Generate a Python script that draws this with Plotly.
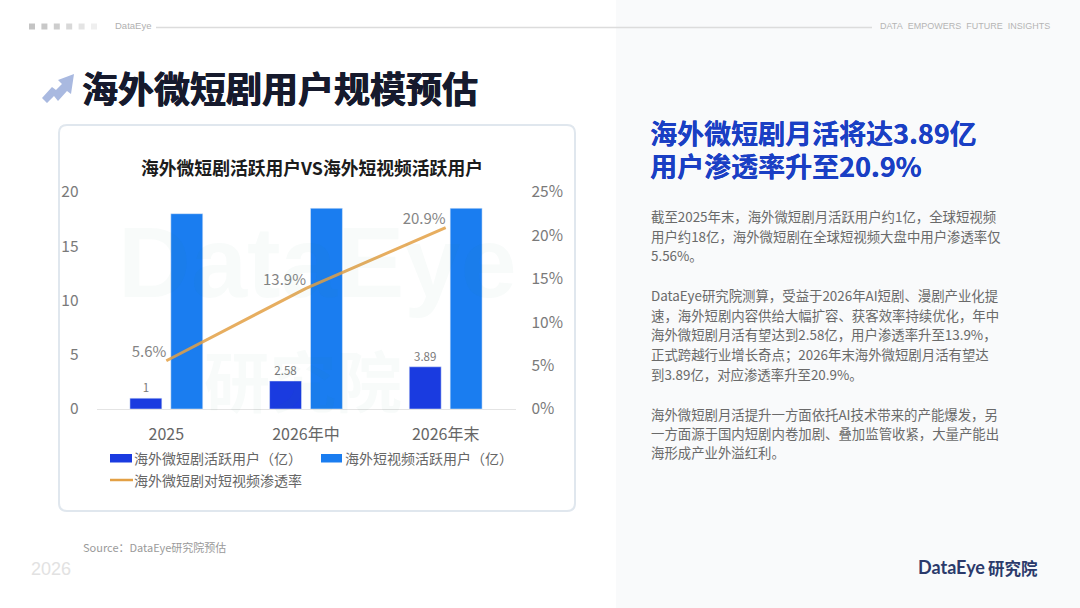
import plotly.graph_objects as go

W, H = 1080, 608
CJK = "Noto Sans CJK SC"

categories = ["2025", "2026年中", "2026年末"]
drama_users = [1, 2.58, 3.89]
video_users = [18, 18.5, 18.5]
penetration = [5.56, 13.9, 20.9]

left_ticks = [0, 5, 10, 15, 20]
right_ticks = [0, 5, 10, 15, 20, 25]

drama_name = "海外微短剧活跃用户（亿）"
video_name = "海外短视频活跃用户（亿）"
rate_name = "海外微短剧对短视频渗透率"
drama_color = "#1a3be0"
video_color = "#1a7df0"
rate_color = "#e3a045"

page_title = "海外微短剧用户规模预估"
chart_title = "海外微短剧活跃用户VS海外短视频活跃用户"
side_heading = ["海外微短剧月活将达3.89亿", "用户渗透率升至20.9%"]
body_lines = [
    "截至2025年末，海外微短剧月活跃用户约1亿，全球短视频",
    "用户约18亿，海外微短剧在全球短视频大盘中用户渗透率仅",
    "5.56%。",
    "DataEye研究院测算，受益于2026年AI短剧、漫剧产业化提",
    "速，海外短剧内容供给大幅扩容、获客效率持续优化，年中",
    "海外微短剧月活有望达到2.58亿，用户渗透率升至13.9%，",
    "正式跨越行业增长奇点；2026年末海外微短剧月活有望达",
    "到3.89亿，对应渗透率升至20.9%。",
    "海外微短剧月活提升一方面依托AI技术带来的产能爆发，另",
    "一方面源于国内短剧内卷加剧、叠加监管收紧，大量产能出",
    "海形成产业外溢红利。",
]
body_y = [215.5, 235.5, 254.5, 294.5, 314.5, 333.5, 353.5, 373.5, 413.5, 432.5, 452.5]


def fx(px):
    return px / W


def fy(px):
    return 1 - px / H


def label(text, x, y, size, color, bold=False, anchor="left", family=CJK, shadow=None):
    if bold:
        text = "<b>" + text + "</b>"
    font = dict(size=size, color=color, family=family)
    if shadow:
        font["shadow"] = shadow
    # annotations sit about 2px right of the anchor because of their padding
    return dict(text=text, x=fx(x), y=fy(y), xref="paper", yref="paper", showarrow=False, xshift=-2 if anchor == "left" else 0,
                xanchor=anchor, yanchor="middle", font=font)


fig = go.Figure()
fig.add_trace(go.Bar(x=categories, y=drama_users, name=drama_name, marker_color=drama_color,
                     text=[str(v) for v in drama_users], textposition="outside", cliponaxis=False,
                     textfont=dict(size=11.5, color="#7a7a7a")))
fig.add_trace(go.Bar(x=categories, y=video_users, name=video_name, marker_color=video_color))
fig.add_trace(go.Scatter(x=categories, y=penetration, yaxis="y2", name=rate_name, mode="lines+text",
                         line=dict(color=rate_color, width=3), opacity=0.85,
                         text=["%.1f%%" % v for v in penetration], textposition="top left",
                         textfont=dict(size=15, color="#6f6f6f"), cliponaxis=False))

arrow_x = [74, 58, 62, 56, 52, 42, 47, 54, 58, 67, 71]
arrow_y = [74, 80, 84, 90, 87, 98, 103, 96, 101, 91, 94]
arrow_path = "M " + " L ".join("%f %f" % (fx(a), fy(b)) for a, b in zip(arrow_x, arrow_y)) + " Z"

shapes = [
    dict(type="rect", xref="paper", yref="paper", x0=fx(616), x1=1, y0=0, y1=1, fillcolor="#f9fafb", line_width=0, layer="below"),
    # card
    dict(type="path", xref="paper", yref="paper", layer="below", fillcolor="#ffffff", line=dict(color="#e0e7ee", width=2),
         path="M %f %f L %f %f Q %f %f %f %f L %f %f Q %f %f %f %f L %f %f Q %f %f %f %f L %f %f Q %f %f %f %f Z" % (
             fx(67), fy(125), fx(567), fy(125), fx(575), fy(125), fx(575), fy(133),
             fx(575), fy(503), fx(575), fy(511), fx(567), fy(511),
             fx(67), fy(511), fx(59), fy(511), fx(59), fy(503),
             fx(59), fy(133), fx(59), fy(125), fx(67), fy(125))),
    # header rule
    dict(type="line", xref="paper", yref="paper", x0=fx(156), x1=fx(872), y0=fy(27.5), y1=fy(27.5), line=dict(color="#dcdcdc", width=1.5)),
    # arrow icon
    dict(type="path", xref="paper", yref="paper", fillcolor="#a9b9e0", line_width=0, path=arrow_path),
    # legend swatches, plotly only draws square ones
    dict(type="rect", xref="paper", yref="paper", x0=fx(110), x1=fx(132), y0=fy(454), y1=fy(462.5), fillcolor=drama_color, line_width=0),
    dict(type="rect", xref="paper", yref="paper", x0=fx(321), x1=fx(342), y0=fy(454), y1=fy(462.5), fillcolor=video_color, line_width=0),
    dict(type="line", xref="paper", yref="paper", x0=fx(110), x1=fx(133), y0=fy(480), y1=fy(480), line=dict(color=rate_color, width=2.5)),
]
dot_colors = ["#c4c4c4", "#c8c8c8", "#cdcdcd", "#d8d8d8", "#e4e4e4", "#efefef"]
for i in range(6):
    x0 = 29 + i * 12.4
    shapes.append(dict(type="rect", xref="paper", yref="paper", x0=fx(x0), x1=fx(x0 + 6), y0=fy(23.5), y1=fy(29.5),
                       fillcolor=dot_colors[i], line_width=0))

annotations = [
    label("DataEye", 115, 26, 9.5, "#b0b0b0", family="Liberation Sans"),
    label("DATA\u00a0\u00a0EMPOWERS\u00a0\u00a0FUTURE\u00a0\u00a0INSIGHTS", 880, 26, 9, "#b5b5b5", family="Liberation Sans"),
    label(page_title, 82, 87.5, 36, "#161a2d", bold=True, shadow="0.5px 0 0 #161a2d, -0.5px 0 0 #161a2d"),
    label(chart_title, 312, 167, 17.8, "#1c1c1c", bold=True, anchor="center"),
    label("DataEye", 317, 262, 101, "rgba(20,130,100,0.03)", bold=True, anchor="center", family="Liberation Sans"),
    label("研究院", 303, 378, 66, "rgba(20,130,100,0.03)", bold=True, anchor="center"),
    label(side_heading[0], 650, 132.5, 27, "#1a3fc4", bold=True, shadow="0.3px 0 0 #1a3fc4"),
    label(side_heading[1], 650, 165.5, 27, "#1a3fc4", bold=True, shadow="0.3px 0 0 #1a3fc4"),
    label(drama_name, 134, 458, 14, "#666666"),
    label(video_name, 345, 458, 14, "#666666"),
    label(rate_name, 134, 480, 14, "#666666"),
    label("Source：DataEye研究院预估", 83, 547, 11, "#9a9a9a"),
    label("2026", 31, 569, 18, "#e2e2e2", family="Liberation Sans"),
    label("DataEye", 918, 567, 18, "#2b3a6b", bold=True, family="Lato"),
    label("研究院", 988, 568, 16.5, "#2b3a6b", bold=True),
]
for line, y in zip(body_lines, body_y):
    annotations.append(label(line, 651, y, 13.4, "#6a6a6a"))

fig.update_layout(
    width=W, height=H, margin=dict(l=0, r=0, t=0, b=0),
    paper_bgcolor="#ffffff", plot_bgcolor="rgba(0,0,0,0)",
    font=dict(family=CJK, color="#6f6f6f"),
    barmode="group", bargap=0.414, bargroupgap=0.22,
    showlegend=False,
    shapes=shapes, annotations=annotations,
    xaxis=dict(domain=[fx(96.5), fx(515.5)], type="category", showline=True, linecolor="#e4e4e4", linewidth=1, automargin=False,
               showgrid=False, ticks="", tickfont=dict(size=16, color="#666666"), ticklabelstandoff=11),
    yaxis=dict(anchor="x", domain=[fy(409), fy(192)], range=[0, 20], tickvals=left_ticks, showgrid=False, zeroline=False,
               automargin=False, tickfont=dict(size=15.5, color="#7a7a7a"), ticklabelstandoff=17),
    yaxis2=dict(anchor="x", overlaying="y", side="right", range=[0, 25], tickvals=right_ticks,
                ticktext=["%d%%" % v for v in right_ticks], automargin=False,
                showgrid=False, zeroline=False, tickfont=dict(size=15.5, color="#7a7a7a"), ticklabelstandoff=15),
)

fig.write_html("out.html", config={"displayModeBar": False}, post_script="document.body.style.margin='0';")
